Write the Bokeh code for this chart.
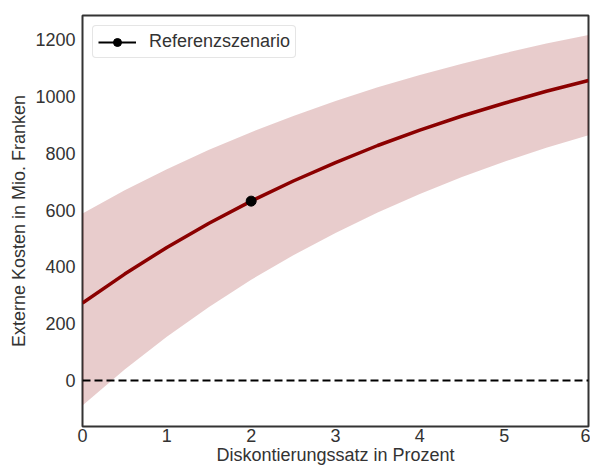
from bokeh.plotting import figure
from bokeh.models import Span, FixedTicker, Legend, LegendItem, Range1d
from bokeh.embed import file_html
from bokeh.resources import INLINE

# Discount rate in percent
rate = [0, 0.5, 1, 1.5, 2, 2.5, 3, 3.5, 4, 4.5, 5, 5.5, 6]
# External costs, million CHF (central estimate)
central = [273, 375, 469, 554, 632, 703, 768, 828, 882, 932, 977, 1019, 1057]
# Uncertainty band
lower = [-88, 39, 154, 259, 355, 441, 520, 592, 657, 717, 771, 820, 864]
upper = [588, 670, 744, 813, 875, 932, 985, 1033, 1076, 1116, 1153, 1187, 1217]
# Reference scenario
ref_x = [2]
ref_y = [632]

x_ticks = [0, 1, 2, 3, 4, 5, 6]
y_ticks = [0, 200, 400, 600, 800, 1000, 1200]

FONT = "Liberation Sans"
TXT = "#333333"
FS = "18px"

p = figure(width=590, height=468, x_range=Range1d(0, 6), y_range=Range1d(-162, 1286),
           output_backend="svg", toolbar_location=None,
           min_border_left=82, min_border_right=2, min_border_top=15, min_border_bottom=42)
p.xgrid.visible = False
p.ygrid.visible = False
p.outline_line_color = "#333333"
p.outline_line_width = 2
p.outline_line_alpha = 1.0

p.varea(x=rate, y1=lower, y2=upper, fill_color="darkred", fill_alpha=0.2)
p.line(x=rate, y=central, line_color="darkred", line_width=3.5)

zero = Span(location=0, dimension="width", line_color="black", line_width=1.8, line_dash="8 4")
p.add_layout(zero)

ref_line = p.line(x=ref_x, y=ref_y, line_color="black", line_width=2)
ref_pt = p.scatter(x=ref_x, y=ref_y, size=10, fill_color="black", line_color="black")

for ax in (p.xaxis[0], p.yaxis[0]):
    ax.axis_line_color = None
    ax.major_tick_line_color = None
    ax.minor_tick_line_color = None
    ax.major_tick_out = 0
    ax.major_tick_in = 0
    ax.major_label_text_font = FONT
    ax.major_label_text_font_size = FS
    ax.major_label_text_color = TXT
    ax.axis_label_text_font = FONT
    ax.axis_label_text_font_size = FS
    ax.axis_label_text_font_style = "normal"
    ax.axis_label_text_color = TXT

p.xaxis[0].ticker = FixedTicker(ticks=x_ticks)
p.yaxis[0].ticker = FixedTicker(ticks=y_ticks)
p.xaxis[0].axis_label = "Diskontierungssatz in Prozent"
p.yaxis[0].axis_label = "Externe Kosten in Mio. Franken"
p.xaxis[0].major_label_standoff = 2
p.xaxis[0].axis_label_standoff = 0
p.yaxis[0].major_label_standoff = 7
p.yaxis[0].axis_label_standoff = 3

legend = Legend(items=[LegendItem(label="Referenzszenario", renderers=[ref_line, ref_pt])],
                location="top_left", margin=10, padding=5, spacing=0,
                glyph_width=38, glyph_height=20, label_standoff=13, label_height=20,
                label_text_font=FONT, label_text_font_size=FS, label_text_color=TXT,
                border_line_color="#cccccc", border_line_width=1, border_radius=4,
                background_fill_color="white", background_fill_alpha=1.0)
p.add_layout(legend)

open("out.html", "w").write(file_html(p, INLINE))
